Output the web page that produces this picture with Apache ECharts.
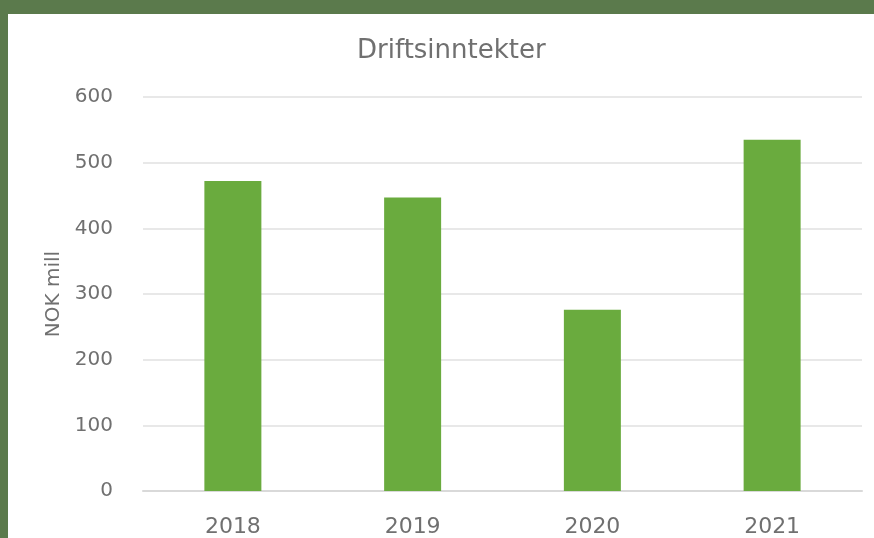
<!DOCTYPE html>
<html>
<head>
<meta charset="utf-8">
<script src="https://cdn.jsdelivr.net/npm/echarts@6/dist/echarts.min.js"></script>
<style>
  html, body { margin: 0; padding: 0; background: #5b7a4c; }
  #chart { width: 874px; height: 538px; }
</style>
</head>
<body>
<div id="chart"></div>
<script>
// Operating revenue per year (NOK million)
const years = ['2018', '2019', '2020', '2021'];
const revenue = [472, 447, 276, 535];
const yTicks = { min: 0, max: 600, interval: 100 };

const textColor = '#707070';
const font = 'DejaVu Sans';

const chart = echarts.init(document.getElementById('chart'));
chart.setOption({
  backgroundColor: '#5b7a4c',
  graphic: [{
    type: 'rect',
    z: -10,
    shape: { x: 8, y: 14, width: 866, height: 524 },
    style: { fill: '#ffffff' }
  }],
  title: {
    text: 'Driftsinntekter',
    left: 352,
    top: 33,
    textStyle: { color: textColor, fontFamily: font, fontSize: 26, fontWeight: 'normal' }
  },
  grid: { left: 143, right: 12, top: 97, bottom: 43 },
  xAxis: {
    type: 'category',
    data: years,
    axisLine: { lineStyle: { color: '#d9d9d9', width: 2 } },
    axisTick: { show: false },
    axisLabel: { color: textColor, fontFamily: font, fontSize: 22, margin: 25 }
  },
  yAxis: {
    type: 'value',
    min: yTicks.min,
    max: yTicks.max,
    interval: yTicks.interval,
    name: 'NOK mill',
    nameLocation: 'middle',
    nameGap: 64,
    nameRotate: 90,
    nameTextStyle: { color: textColor, fontFamily: font, fontSize: 20 },
    axisLine: { show: false },
    axisTick: { show: false },
    splitLine: { lineStyle: { color: '#e8e8e8', width: 2 } },
    axisLabel: { color: textColor, fontFamily: font, fontSize: 20, margin: 30 }
  },
  series: [{
    type: 'bar',
    data: revenue,
    barWidth: 57,
    itemStyle: { color: '#6aab3e' },
    animation: false
  }]
});
</script>
</body>
</html>
